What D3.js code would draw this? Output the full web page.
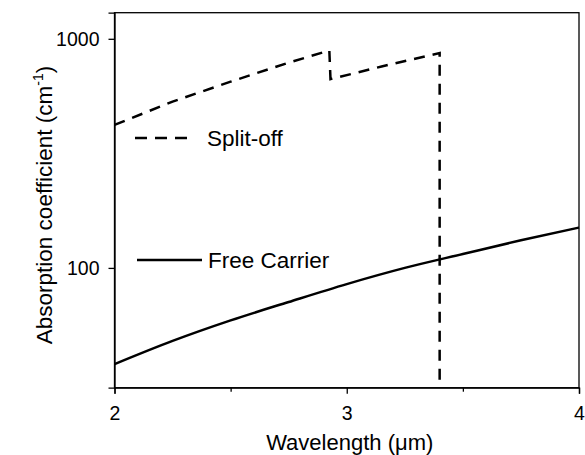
<!DOCTYPE html>
<html>
<head>
<meta charset="utf-8">
<script src="https://cdn.jsdelivr.net/npm/d3@7"></script>
<style>
  body { margin: 0; background: #fff; }
  text { font-family: "Liberation Sans", Arial, sans-serif; fill: #000; }
</style>
</head>
<body>
<div id="chart"></div>
<script>
// wavelength (um) vs absorption coefficient (cm-1)
var freeX = [2.0, 2.25, 2.5, 2.75, 3.0, 3.25, 3.5, 3.75, 4.0];
var freeY = [38, 48, 59, 71, 85, 100, 115, 132, 150];

var splitX = [2.0, 2.25, 2.5, 2.75, 2.925, 2.93, 3.15, 3.40, 3.40];
var splitY = [421, 532, 650, 787, 889, 667, 757, 866, 30];

var xTicks = [2, 3, 4];
var xMinor = [2.5, 3.5];
var yTicks = [100, 1000];

var W = 585, H = 455;
var margin = {left: 114.5, top: 12.7, right: 6, bottom: 67.3};
var pw = W - margin.left - margin.right;
var ph = H - margin.top - margin.bottom;

var svg = d3.select("#chart").append("svg")
    .attr("width", W)
    .attr("height", H);

var g = svg.append("g")
    .attr("transform", "translate(" + margin.left + "," + margin.top + ")");

var x = d3.scaleLinear().domain([2, 4]).range([0, pw]);
var y = d3.scaleLog().domain([30, 1300]).range([ph, 0]);

// axes
var xAxis = g.append("g")
    .attr("transform", "translate(0," + ph + ")")
    .call(d3.axisBottom(x).tickValues(xTicks).tickSize(6).tickPadding(12).tickFormat(d3.format("d")));

var xAxisMinor = g.append("g")
    .attr("transform", "translate(0," + ph + ")")
    .call(d3.axisBottom(x).tickValues(xMinor).tickSize(4).tickFormat(""));
xAxisMinor.select(".domain").remove();

var yAxis = g.append("g")
    .call(d3.axisLeft(y).tickValues(yTicks).tickSize(6).tickPadding(9).tickFormat(d3.format("d")));

[xAxis, xAxisMinor, yAxis].forEach(function(a) {
    a.selectAll("line").attr("stroke", "#000").attr("stroke-width", 1.3);
    a.selectAll(".domain").attr("stroke", "#000").attr("stroke-width", 1.3);
    a.selectAll("text").style("font-size", "19.5px").attr("fill", "#000");
});

// frame top / right
g.append("rect")
    .attr("x", 0).attr("y", 0)
    .attr("width", pw).attr("height", ph)
    .attr("fill", "none")
    .attr("stroke", "#000")
    .attr("stroke-width", 1.3);

var line = d3.line()
    .x(function(d) { return x(d[0]); })
    .y(function(d) { return y(d[1]); });

g.append("path")
    .datum(d3.zip(freeX, freeY))
    .attr("d", line.curve(d3.curveMonotoneX))
    .attr("fill", "none")
    .attr("stroke", "#000")
    .attr("stroke-width", 2.5);

g.append("path")
    .datum(d3.zip(splitX, splitY))
    .attr("d", line.curve(d3.curveLinear))
    .attr("fill", "none")
    .attr("stroke", "#000")
    .attr("stroke-width", 2.5)
    .attr("stroke-dasharray", "11,8");

// legend
svg.append("line")
    .attr("x1", 135).attr("x2", 192).attr("y1", 138).attr("y2", 138)
    .attr("stroke", "#000").attr("stroke-width", 2.5)
    .attr("stroke-dasharray", "12,8");
svg.append("text")
    .attr("x", 207).attr("y", 146)
    .style("font-size", "22.5px")
    .text("Split-off");

svg.append("line")
    .attr("x1", 137).attr("x2", 202).attr("y1", 260).attr("y2", 260)
    .attr("stroke", "#000").attr("stroke-width", 2.5);
svg.append("text")
    .attr("x", 208).attr("y", 268)
    .style("font-size", "22.5px")
    .text("Free Carrier");

// axis titles
svg.append("text")
    .attr("x", margin.left + pw / 2 + 3).attr("y", 450)
    .attr("text-anchor", "middle")
    .style("font-size", "22px")
    .text("Wavelength (\u03bcm)");

var yt = svg.append("text")
    .attr("transform", "translate(52," + 205 + ") rotate(-90)")
    .attr("text-anchor", "middle")
    .style("font-size", "22.5px");
yt.append("tspan").text("Absorption coefficient (cm");
yt.append("tspan").attr("dy", -9).style("font-size", "14px").text("-1");
yt.append("tspan").attr("dy", 9).text(")");
</script>
</body>
</html>
